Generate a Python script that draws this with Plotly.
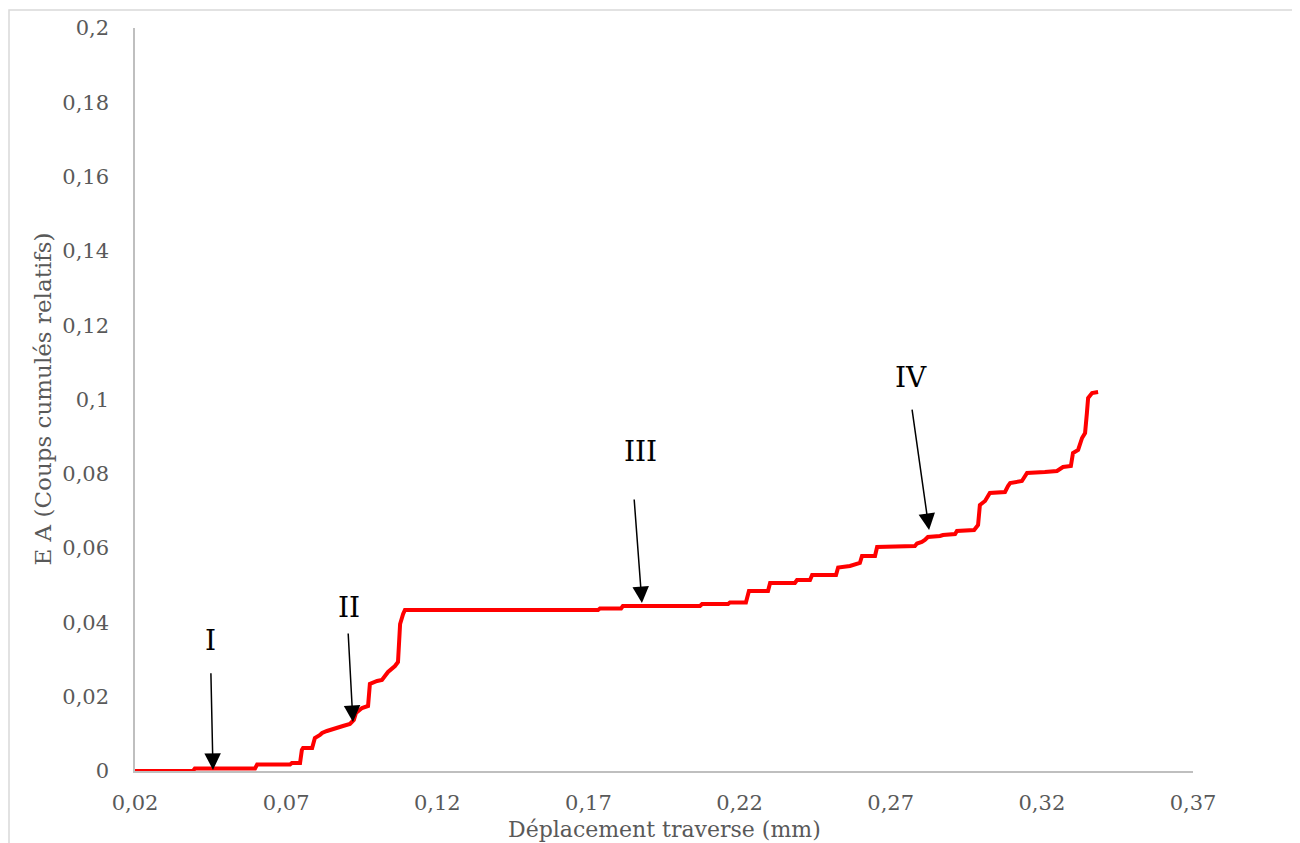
import plotly.graph_objects as go

# ---- data ----
displacement_mm = [
    0.0200, 0.0392, 0.0398, 0.0597, 0.0604, 0.0713, 0.0719, 0.0746, 0.0752, 0.0756,
    0.0786, 0.0795, 0.0812, 0.0819, 0.0835, 0.0862, 0.0888, 0.0911, 0.0924, 0.0931,
    0.0951, 0.0971, 0.0974, 0.0977, 0.1001, 0.1017, 0.1037, 0.1060, 0.1070, 0.1077,
    0.1087, 0.1093, 0.1732, 0.1738, 0.1808, 0.1814, 0.2069, 0.2076, 0.2162, 0.2168,
    0.2221, 0.2231, 0.2294, 0.2301, 0.2383, 0.2390, 0.2433, 0.2440, 0.2519, 0.2526,
    0.2565, 0.2598, 0.2605, 0.2648, 0.2655, 0.2780, 0.2787, 0.2803, 0.2813, 0.2823,
    0.2863, 0.2873, 0.2913, 0.2919, 0.2976, 0.2989, 0.2995, 0.3012, 0.3028, 0.3078,
    0.3088, 0.3095, 0.3134, 0.3151, 0.3210, 0.3250, 0.3270, 0.3296, 0.3303, 0.3320,
    0.3333, 0.3343, 0.3349, 0.3353, 0.3366, 0.3386,
]
ea_cumulative = [
    0.00000, 0.00000, 0.00067, 0.00067, 0.00175, 0.00175, 0.00215, 0.00215, 0.00565, 0.00619,
    0.00619, 0.00888, 0.00969, 0.01023, 0.01077, 0.01157, 0.01211, 0.01265, 0.01373, 0.01561,
    0.01696, 0.01750, 0.02019, 0.02342, 0.02423, 0.02450, 0.02665, 0.02826, 0.02934, 0.03957,
    0.04226, 0.04334, 0.04334, 0.04374, 0.04374, 0.04441, 0.04441, 0.04495, 0.04495, 0.04536,
    0.04536, 0.04845, 0.04845, 0.05061, 0.05061, 0.05141, 0.05141, 0.05276, 0.05276, 0.05478,
    0.05518, 0.05599, 0.05787, 0.05787, 0.06030, 0.06057, 0.06124, 0.06164, 0.06218, 0.06299,
    0.06326, 0.06353, 0.06380, 0.06460, 0.06487, 0.06622, 0.07160, 0.07268, 0.07483, 0.07510,
    0.07672, 0.07752, 0.07806, 0.08022, 0.08048, 0.08075, 0.08183, 0.08210, 0.08560, 0.08641,
    0.08964, 0.09098, 0.09637, 0.10040, 0.10175, 0.10202,
]

x_tick_vals = [0.02, 0.07, 0.12, 0.17, 0.22, 0.27, 0.32, 0.37]
x_tick_text = ["0,02", "0,07", "0,12", "0,17", "0,22", "0,27", "0,32", "0,37"]
y_tick_vals = [0, 0.02, 0.04, 0.06, 0.08, 0.10, 0.12, 0.14, 0.16, 0.18, 0.20]
y_tick_text = ["0", "0,02", "0,04", "0,06", "0,08", "0,1", "0,12", "0,14", "0,16", "0,18", "0,2"]

# phase labels: text, label position, arrow tail, arrow tip
phase_labels = ["I", "II", "III", "IV"]
label_x = [0.0451, 0.0908, 0.1871, 0.2767]
label_y = [0.0350, 0.0441, 0.0859, 0.1058]
tail_x = [0.0451, 0.0905, 0.1851, 0.2770]
tail_y = [0.0267, 0.0374, 0.0735, 0.0977]
tip_x = [0.0458, 0.0921, 0.1877, 0.2827]
tip_y = [0.0003, 0.0132, 0.0452, 0.0649]

FONT = "DejaVu Serif"
GREY = "#595959"

fig = go.Figure()
fig.add_trace(go.Scatter(
    x=displacement_mm, y=ea_cumulative, mode="lines",
    line=dict(color="#FF0000", width=4),
    showlegend=False, hoverinfo="skip",
))

annotations = []
for t, lx, ly, ax, ay, hx, hy in zip(phase_labels, label_x, label_y, tail_x, tail_y, tip_x, tip_y):
    annotations.append(dict(
        x=hx, y=hy, ax=ax, ay=ay, xref="x", yref="y", axref="x", ayref="y",
        showarrow=True, arrowhead=2, arrowsize=2.2, arrowwidth=1.5, arrowcolor="black",
        text="",
    ))
    annotations.append(dict(
        x=lx, y=ly, xref="x", yref="y", text=t, showarrow=False,
        font=dict(family=FONT, size=28, color="black"),
    ))

annotations.append(dict(
    x=0.5, y=-0.0785, xref="paper", yref="paper", text="Déplacement traverse (mm)",
    showarrow=False, font=dict(family=FONT, size=22, color=GREY),
    xanchor="center", yanchor="middle",
))
annotations.append(dict(
    x=-0.0879, y=0.5, xref="paper", yref="paper", text="E A (Coups cumulés relatifs)",
    showarrow=False, textangle=-90, font=dict(family=FONT, size=23, color=GREY),
    xanchor="center", yanchor="middle",
))

fig.update_layout(
    width=1292, height=835,
    margin=dict(l=127, r=107, t=20, b=72),
    paper_bgcolor="white", plot_bgcolor="white",
    font=dict(family=FONT, color=GREY),
    annotations=annotations,
    shapes=[dict(
        type="rect", xref="paper", yref="paper",
        x0=-0.1191, x1=1.0955, y0=-0.12, y1=1.0242,
        line=dict(color="#d9d9d9", width=1.5), fillcolor="rgba(0,0,0,0)", layer="below",
    )],
    xaxis=dict(
        range=[0.02, 0.37], tickvals=x_tick_vals, ticktext=x_tick_text,
        showgrid=False, zeroline=False, showline=True, linecolor="#bfbfbf", linewidth=1.5,
        ticks="", tickfont=dict(family=FONT, size=21, color=GREY),
        ticklabelstandoff=12, automargin=False, fixedrange=True,
    ),
    yaxis=dict(
        range=[0, 0.2], tickvals=y_tick_vals, ticktext=y_tick_text,
        showgrid=False, zeroline=False, showline=True, linecolor="#bfbfbf", linewidth=1.5,
        ticks="", tickfont=dict(family=FONT, size=21, color=GREY),
        ticklabelstandoff=20, automargin=False, fixedrange=True,
    ),
)

fig.write_html("out.html")
